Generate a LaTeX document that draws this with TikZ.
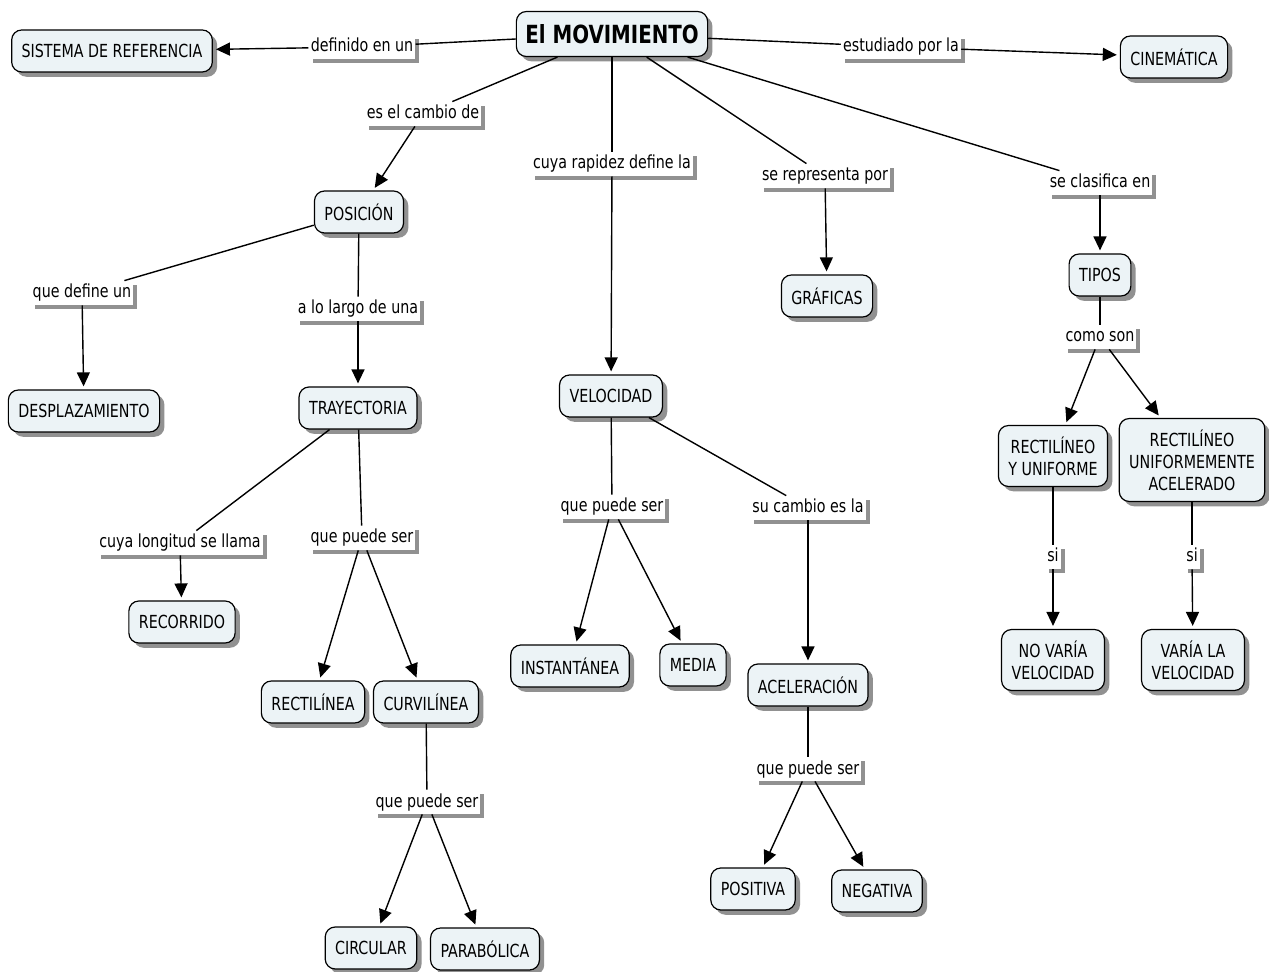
\documentclass[tikz,border=0pt]{standalone}
\usepackage{fontspec}
\setmainfont[FakeStretch=0.88]{DejaVu Sans Condensed}
\usetikzlibrary{shadows,arrows.meta}
\definecolor{cfill}{RGB}{236,243,246}
\definecolor{cshadow}{RGB}{145,145,145}
\tikzset{
  concept/.style={draw,line width=0.6pt,rounded corners=5pt,fill=cfill,
    inner xsep=5pt,inner ysep=5.5pt,minimum height=21pt,align=center,
    font=\fontsize{9}{11}\selectfont,
    drop shadow={shadow xshift=2.4pt,shadow yshift=-2.4pt,fill=cshadow,opacity=1}},
  phrase/.style={fill=white,inner sep=1pt,text height=0.75em,text depth=0.25em,
    font=\fontsize{9}{11}\selectfont,
    drop shadow={shadow xshift=2pt,shadow yshift=-2pt,fill=cshadow,opacity=1}},
  link/.style={line width=0.7pt},
  arr/.style={line width=0.7pt,shorten >=1.5pt,-{Triangle[length=7pt,width=6.5pt]}}
}
\begin{document}
\begin{tikzpicture}[x=0.5pt,y=-0.5pt]
            \useasboundingbox (0,0) rectangle (1269,972);
            % concepts
            \node[concept,font=\bfseries\fontsize{12.5}{15}\selectfont,minimum height=22.5pt,inner xsep=4.5pt] (mov) at (612,34) {El MOVIMIENTO};
            \node[concept] (sist) at (112,51) {SISTEMA DE REFERENCIA};
            \node[concept] (cine) at (1174,57) {CINEMÁTICA};
            \node[concept] (pos) at (359,212) {POSICIÓN};
            \node[concept] (graf) at (827,296) {GRÁFICAS};
            \node[concept] (tipos) at (1100,275) {TIPOS};
            \node[concept] (desp) at (84,411) {DESPLAZAMIENTO};
            \node[concept] (tray) at (358,408) {TRAYECTORIA};
            \node[concept] (vel) at (611,396) {VELOCIDAD};
            \node[concept] (ru) at (1053,456) {RECTILÍNEO\\Y UNIFORME};
            \node[concept] (rua) at (1192,460) {RECTILÍNEO\\UNIFORMEMENTE\\ACELERADO};
            \node[concept] (rec) at (182,622) {RECORRIDO};
            \node[concept] (rectil) at (313,702) {RECTILÍNEA};
            \node[concept] (curv) at (426,702) {CURVILÍNEA};
            \node[concept] (inst) at (570,666) {INSTANTÁNEA};
            \node[concept] (media) at (693,665) {MEDIA};
            \node[concept] (acel) at (808,685) {ACELERACIÓN};
            \node[concept] (novar) at (1053,660) {NO VARÍA\\VELOCIDAD};
            \node[concept] (var) at (1193,660) {VARÍA LA\\VELOCIDAD};
            \node[concept] (posit) at (753,889) {POSITIVA};
            \node[concept] (negat) at (877,891) {NEGATIVA};
            \node[concept] (circ) at (371,948) {CIRCULAR};
            \node[concept] (parab) at (485,949) {PARABÓLICA};
            
            % linking phrases
            \node[phrase] (definido) at (362,47) {definido en un};
            \node[phrase] (estudiado) at (901,47) {estudiado por la};
            \node[phrase] (cambio) at (423,114) {es el cambio de};
            \node[phrase] (rapidez) at (612,164) {cuya rapidez define la};
            \node[phrase] (repres) at (825,176) {se representa por};
            \node[phrase] (clasif) at (1100,183) {se clasifica en};
            \node[phrase] (define) at (82,293) {que define un};
            \node[phrase] (largo) at (358,309) {a lo largo de una};
            \node[phrase] (como) at (1100,337) {como son};
            \node[phrase] (puedeV) at (612,507) {que puede ser};
            \node[phrase] (sucambio) at (808,508) {su cambio es la};
            \node[phrase] (longitud) at (180,543) {cuya longitud se llama};
            \node[phrase] (puedeT) at (362,538) {que puede ser};
            \node[phrase] (siA) at (1053,557) {si};
            \node[phrase] (siB) at (1192,557) {si};
            \node[phrase] (puedeA) at (808,769) {que puede ser};
            \node[phrase] (puedeC) at (427,802) {que puede ser};
            
            % connectors
            \path [link] (mov) edge (definido);
            \path [arr] (definido) edge (sist);
            \path [link] (mov) edge (estudiado);
            \path [arr] (estudiado) edge (cine);
            \path [link] (mov) edge (cambio);
            \path [arr] (cambio) edge (pos);
            \path [link] (mov) edge (rapidez);
            \path [arr] (rapidez) edge (vel);
            \path [link] (mov) edge (repres);
            \path [arr] (repres) edge (graf);
            \path [link] (mov) edge (clasif);
            \path [arr] (clasif) edge (tipos);
            
            \path [link] (pos) edge (define);
            \path [arr] (define) edge (desp);
            \path [link] (pos) edge (largo);
            \path [arr] (largo) edge (tray);
            
            \path [link] (tipos) edge (como);
            \path [arr] (como) edge (ru);
            \path [arr] (como) edge (rua);
            \path [link] (ru) edge (siA);
            \path [arr] (siA) edge (novar);
            \path [link] (rua) edge (siB);
            \path [arr] (siB) edge (var);
            
            \path [link] (tray) edge (longitud);
            \path [arr] (longitud) edge (rec);
            \path [link] (tray) edge (puedeT);
            \path [arr] (puedeT) edge (rectil);
            \path [arr] (puedeT) edge (curv);
            \path [link] (curv) edge (puedeC);
            \path [arr] (puedeC) edge (circ);
            \path [arr] (puedeC) edge (parab);
            
            \path [link] (vel) edge (puedeV);
            \path [arr] (puedeV) edge (inst);
            \path [arr] (puedeV) edge (media);
            \path [link] (vel) edge (sucambio);
            \path [arr] (sucambio) edge (acel);
            \path [link] (acel) edge (puedeA);
            \path [arr] (puedeA) edge (posit);
            \path [arr] (puedeA) edge (negat);
\end{tikzpicture}
\end{document}
